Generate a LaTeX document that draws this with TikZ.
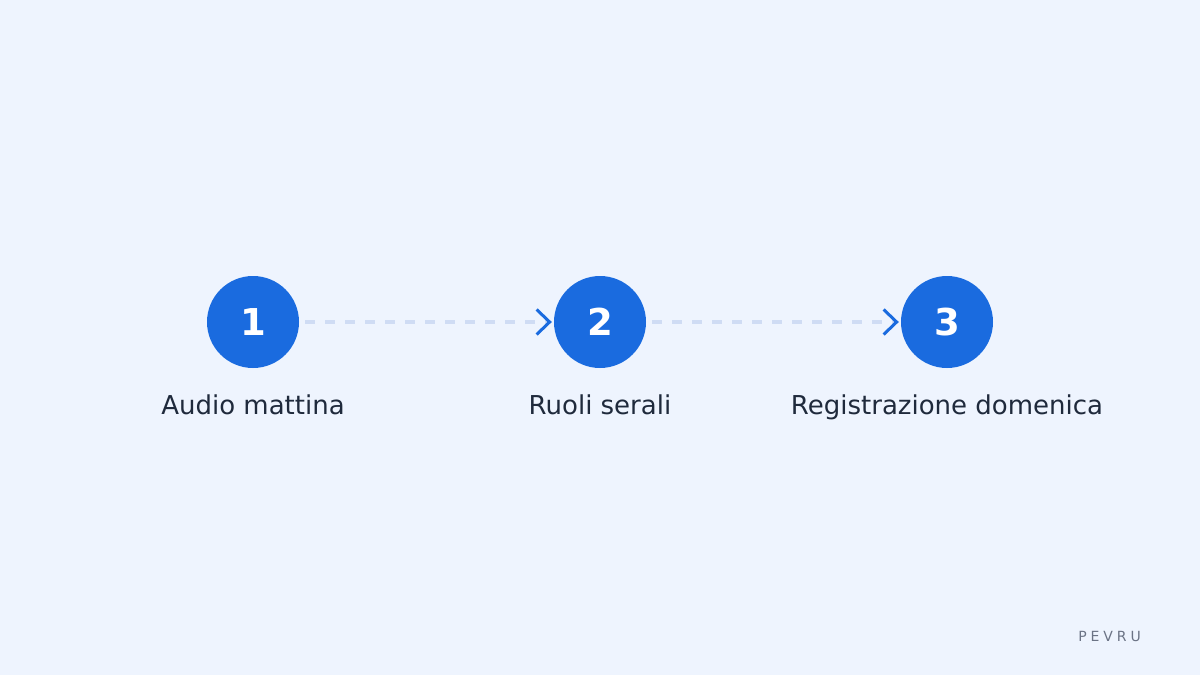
\documentclass[tikz,border=0pt]{standalone}
\usepackage{fontspec}
\setmainfont{DejaVu Sans}
\newfontfamily\brandfont[LetterSpace=28]{DejaVu Sans}
\usetikzlibrary{positioning}
\usetikzlibrary{arrows.meta}

\definecolor{bgcol}{HTML}{EEF4FE}
\definecolor{stepblue}{HTML}{1A6BDF}
\definecolor{dashcol}{HTML}{CFDCF4}
\definecolor{labelcol}{HTML}{1F2A3C}
\definecolor{brandcol}{HTML}{6B7385}

\tikzset{
  stepdot/.style={circle,fill=stepblue,minimum size=92pt,inner sep=0pt,
    text=white,font=\fontsize{37}{40}\selectfont\bfseries},
  steplabel/.style={anchor=base,text=labelcol,font=\fontsize{26}{30}\selectfont,inner sep=0pt},
  flow/.style={dashcol,line width=4pt,dash pattern=on 10pt off 10pt,
    shorten <=6pt,shorten >=2pt,
    -{Straight Barb[color=stepblue,length=13pt,width=25pt,line width=3pt]}}
}

\begin{document}
\begin{tikzpicture}[x=1pt,y=-1pt]
    \fill [bgcol] (0,0) rectangle (1200,675);
    \useasboundingbox (0,0) rectangle (1200,675);

    \node [stepdot] (s1) at (253,322) {1};
    \node [stepdot] (s2) at (600,322) {2};
    \node [stepdot] (s3) at (947,322) {3};

    \node [steplabel] (l1) at (253,414) {Audio mattina};
    \node [steplabel] (l2) at (600,414) {Ruoli serali};
    \node [steplabel] (l3) at (947,414) {Registrazione domenica};

    \draw [flow] (s1) -- (s2);
    \draw [flow] (s2) -- (s3);

    % brand mark
    \node [anchor=base east,inner sep=0pt,text=brandcol,font=\brandfont\fontsize{14}{16}\selectfont] (brand) at (1141,641) {PEVRU};
\end{tikzpicture}
\end{document}
